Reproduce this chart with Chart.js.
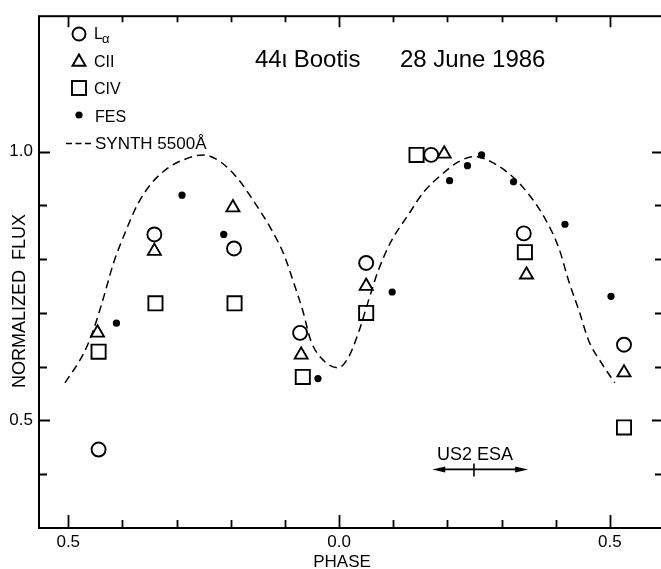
<!DOCTYPE html>
<html><head><meta charset="utf-8">
<script src="https://cdn.jsdelivr.net/npm/chart.js@4/dist/chart.umd.min.js"></script>
<style>
html,body{margin:0;padding:0;background:#fff;overflow:hidden;width:661px;height:569px}
#wrap{width:680px;height:569px}
canvas{display:block}
</style></head><body><div id="wrap"><canvas id="c" width="680" height="569" style="width:680px;height:569px"></canvas></div>
<script>
// ---- data ----
const lyaPhase = [-0.444, -0.341, -0.194, -0.072, 0.050, 0.170, 0.341, 0.526];
const lyaFlux  = [0.446, 0.846, 0.820, 0.663, 0.793, 0.994, 0.848, 0.641];
const c2Phase  = [-0.446, -0.341, -0.196, -0.070, 0.050, 0.194, 0.346, 0.526];
const c2Flux   = [0.663, 0.815, 0.896, 0.622, 0.750, 0.996, 0.771, 0.589];
const c4Phase  = [-0.444, -0.339, -0.193, -0.067, 0.050, 0.143, 0.343, 0.526];
const c4Flux   = [0.628, 0.718, 0.718, 0.581, 0.700, 0.994, 0.813, 0.487];
const fesPhase = [-0.411, -0.290, -0.213, -0.039, 0.098, 0.204, 0.237, 0.263, 0.322, 0.417, 0.502];
const fesFlux  = [0.681, 0.919, 0.846, 0.578, 0.739, 0.946, 0.974, 0.994, 0.944, 0.865, 0.731];
const synPhase = [-0.506,-0.472,-0.454,-0.435,-0.417,-0.394,-0.372,-0.348,-0.317,-0.287,-0.250,-0.219,-0.187,-0.157,-0.126,-0.102,-0.083,-0.067,-0.052,-0.028,-0.002,0.017,0.035,0.054,0.072,0.096,0.128,0.157,0.189,0.220,0.250,0.281,0.324,0.356,0.380,0.406,0.424,0.443,0.461,0.485,0.509];
const synFlux  = [0.570,0.624,0.667,0.728,0.791,0.852,0.902,0.939,0.969,0.985,0.994,0.981,0.950,0.907,0.857,0.809,0.754,0.704,0.648,0.611,0.598,0.617,0.661,0.722,0.778,0.833,0.883,0.926,0.957,0.981,0.991,0.981,0.950,0.913,0.876,0.820,0.759,0.704,0.648,0.606,0.570];
const xTickMarks  = [-0.5,-0.4,-0.3,-0.2,-0.1,0.0,0.1,0.2,0.3,0.4,0.5];
const xTickLabels = [-0.5, 0.0, 0.5];
const yTickMarks  = [0.4,0.5,0.6,0.7,0.8,0.9,1.0];
const yTickLabels = [0.5, 1.0];
const esaBar = {start: 0.172, mid: 0.249, end: 0.349, level: 0.409};

const FONT = '"Liberation Sans", Arial, sans-serif';
const pts = (xs, ys) => xs.map((x, i) => ({x, y: ys[i]}));

const decor = {
  id: 'decor',
  afterDraw(chart) {
    const ctx = chart.ctx, a = chart.chartArea;
    const xs = chart.scales.x, ys = chart.scales.y;
    ctx.save();
    ctx.strokeStyle = '#000'; ctx.fillStyle = '#000';
    // frame
    ctx.lineWidth = 2;
    ctx.strokeRect(a.left, a.top, a.right - a.left, a.bottom - a.top);
    // ticks (inward)
    ctx.lineWidth = 1.8;
    ctx.beginPath();
    xTickMarks.forEach(v => {
      const p = Math.round(xs.getPixelForValue(v)) + 0.5;
      const major = xTickLabels.some(t => Math.abs(t - v) < 1e-9);
      const lb = major ? 13 : 8, lt = major ? 11 : 6;
      ctx.moveTo(p, a.bottom); ctx.lineTo(p, a.bottom - lb);
      ctx.moveTo(p, a.top); ctx.lineTo(p, a.top + lt);
    });
    yTickMarks.forEach(v => {
      const p = Math.round(ys.getPixelForValue(v)) + 0.5;
      const major = yTickLabels.some(t => Math.abs(t - v) < 1e-9);
      const l = major ? 11 : 8;
      ctx.moveTo(a.left, p); ctx.lineTo(a.left + l, p);
      ctx.moveTo(a.right, p); ctx.lineTo(a.right - l, p);
    });
    ctx.stroke();

    // axis titles
    ctx.font = '17px ' + FONT;
    ctx.textAlign = 'center'; ctx.textBaseline = 'alphabetic';
    ctx.fillText('PHASE', 342, 567);
    ctx.save();
    ctx.translate(25, 301); ctx.rotate(-Math.PI / 2);
    ctx.font = '18px ' + FONT;
    ctx.fillText('NORMALIZED  FLUX', 0, 0);
    ctx.restore();

    // title
    ctx.font = '24px ' + FONT;
    ctx.textAlign = 'left';
    ctx.fillText('44\u03B9 Bootis', 255, 67);
    ctx.fillText('28 June 1986', 400, 67);

    // legend
    const lx = 79;
    ctx.lineWidth = 1.9;
    ctx.beginPath(); ctx.arc(lx, 34, 6.5, 0, Math.PI * 2); ctx.stroke();
    ctx.beginPath();
    const r = 7.5;
    ctx.moveTo(lx, 62 - r); ctx.lineTo(lx + r * Math.sin(2*Math.PI/3), 62 + r/2); ctx.lineTo(lx - r * Math.sin(2*Math.PI/3), 62 + r/2); ctx.closePath(); ctx.stroke();
    ctx.strokeRect(lx - 7, 88 - 7, 14, 14);
    ctx.beginPath(); ctx.arc(lx, 115, 3.6, 0, Math.PI * 2); ctx.fill();
    ctx.setLineDash([6, 3.5]); ctx.lineWidth = 1.5;
    ctx.beginPath(); ctx.moveTo(66, 143.5); ctx.lineTo(93, 143.5); ctx.stroke();
    ctx.setLineDash([]);
    ctx.font = '16px ' + FONT;
    ctx.fillText('L', 94, 39);
    ctx.font = '13px ' + FONT;
    ctx.fillText('\u03B1', 102, 43);
    ctx.font = '16px ' + FONT;
    ctx.fillText('CII', 94, 67);
    ctx.fillText('CIV', 94, 94);
    ctx.fillText('FES', 95, 122);
    ctx.font = '17px ' + FONT;
    ctx.fillText('SYNTH 5500\u00C5', 95, 149);

    // US2 ESA bar
    const x0 = xs.getPixelForValue(esaBar.start), x1 = xs.getPixelForValue(esaBar.end);
    const xm = xs.getPixelForValue(esaBar.mid), yb = ys.getPixelForValue(esaBar.level);
    ctx.font = '18px ' + FONT;
    ctx.textAlign = 'center';
    ctx.fillText('US2 ESA', xm + 1, yb - 9);
    ctx.lineWidth = 1.6;
    ctx.beginPath();
    ctx.moveTo(x0 + 8, yb); ctx.lineTo(x1 - 8, yb);
    ctx.moveTo(xm, yb - 6); ctx.lineTo(xm, yb + 7);
    ctx.stroke();
    ctx.beginPath();
    ctx.moveTo(x0, yb); ctx.lineTo(x0 + 13, yb - 3); ctx.lineTo(x0 + 13, yb + 3); ctx.closePath();
    ctx.moveTo(x1, yb); ctx.lineTo(x1 - 13, yb - 3); ctx.lineTo(x1 - 13, yb + 3); ctx.closePath();
    ctx.fill();
    ctx.restore();
  }
};

const open = 'rgba(0,0,0,0)';
new Chart(document.getElementById('c'), {
  type: 'scatter',
  data: {
    datasets: [
      {label: 'SYNTH 5500Å', data: pts(synPhase, synFlux), showLine: true, pointRadius: 0,
       borderColor: '#000', borderWidth: 1.5, borderDash: [8, 5], cubicInterpolationMode: 'monotone', order: 5},
      {label: 'Lα', data: pts(lyaPhase, lyaFlux), pointStyle: 'circle', pointRadius: 7,
       borderColor: '#000', backgroundColor: open, borderWidth: 1.9, order: 1},
      {label: 'CII', data: pts(c2Phase, c2Flux), pointStyle: 'triangle', pointRadius: 7.5,
       borderColor: '#000', backgroundColor: open, borderWidth: 1.9, order: 2},
      {label: 'CIV', data: pts(c4Phase, c4Flux), pointStyle: 'rect', pointRadius: 10,
       borderColor: '#000', backgroundColor: open, borderWidth: 1.9, order: 3},
      {label: 'FES', data: pts(fesPhase, fesFlux), pointStyle: 'circle', pointRadius: 3.6,
       borderColor: '#000', backgroundColor: '#000', borderWidth: 0, order: 4}
    ]
  },
  options: {
    responsive: false, animation: false, devicePixelRatio: 1,
    layout: {padding: {left: 0, top: 14, right: 17, bottom: 0}},
    plugins: {legend: {display: false}, tooltip: {enabled: false}, title: {display: false}},
    scales: {
      x: {
        type: 'linear', min: -0.554, max: 0.598,
        grid: {display: false, drawTicks: false}, border: {display: false},
        afterBuildTicks: s => { s.ticks = xTickLabels.map(v => ({value: v})); },
        afterFit: s => { s.height = 41; },
        ticks: {autoSkip: false, maxRotation: 0, padding: 4, color: '#000',
                font: {family: FONT, size: 17},
                callback: v => Math.abs(v).toFixed(1)}
      },
      y: {
        type: 'linear', min: 0.3, max: 1.252,
        grid: {display: false, drawTicks: false}, border: {display: false},
        afterBuildTicks: s => { s.ticks = yTickLabels.map(v => ({value: v})); },
        afterFit: s => { s.width = 39; },
        ticks: {autoSkip: false, padding: 6, color: '#000',
                font: {family: FONT, size: 17},
                callback: v => v.toFixed(1)}
      }
    }
  },
  plugins: [decor]
});
</script></body></html>
